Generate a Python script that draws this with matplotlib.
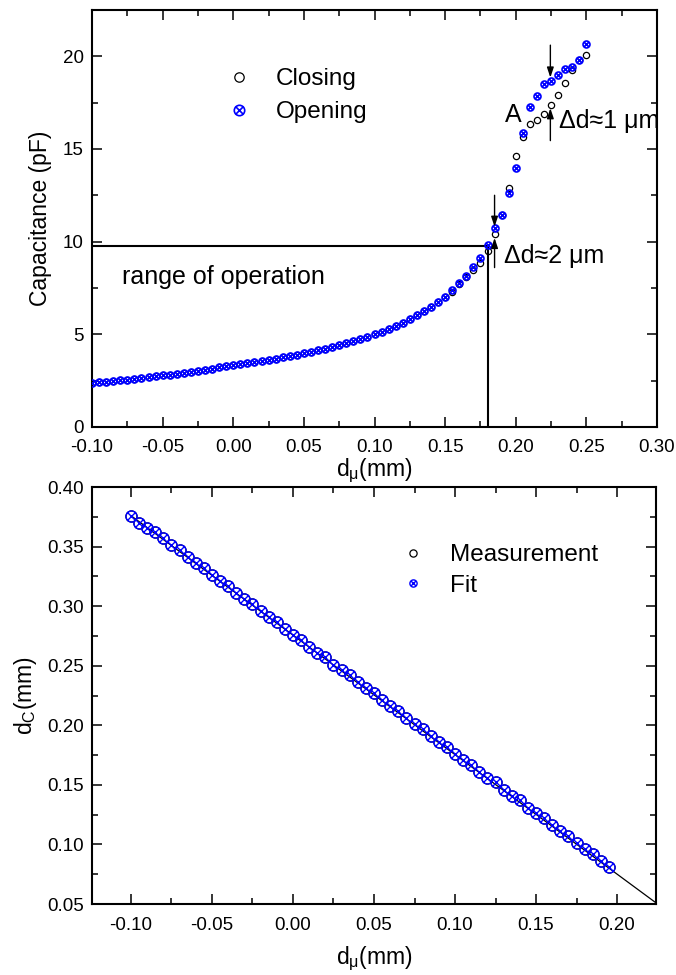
import numpy as np
import matplotlib
matplotlib.use('Agg')
import matplotlib.pyplot as plt
from matplotlib.path import Path
from matplotlib.ticker import MultipleLocator, FormatStrFormatter

plt.rcParams['font.family'] = ['Liberation Sans', 'DejaVu Sans']
plt.rcParams['mathtext.fontset'] = 'custom'
plt.rcParams['mathtext.rm'] = 'Liberation Sans'
plt.rcParams['mathtext.default'] = 'regular'

# top panel: capacitance vs d_mu
d_top = [-0.100, -0.095, -0.090, -0.085, -0.080, -0.075, -0.070, -0.065, -0.060, -0.055,
         -0.050, -0.045, -0.040, -0.035, -0.030, -0.025, -0.020, -0.015, -0.010, -0.005,
         0.000, 0.005, 0.010, 0.015, 0.020, 0.025, 0.030, 0.035, 0.040, 0.045,
         0.050, 0.055, 0.060, 0.065, 0.070, 0.075, 0.080, 0.085, 0.090, 0.095,
         0.100, 0.105, 0.110, 0.115, 0.120, 0.125, 0.130, 0.135, 0.140, 0.145,
         0.150, 0.155, 0.160, 0.165, 0.170, 0.175, 0.180, 0.185, 0.190, 0.195,
         0.200, 0.205, 0.210, 0.215, 0.220, 0.225, 0.230, 0.235, 0.240, 0.245, 0.250]

closing = [2.38, 2.42, 2.45, 2.48, 2.51, 2.54, 2.59, 2.63, 2.68, 2.73,
           2.78, 2.83, 2.87, 2.92, 2.98, 3.03, 3.09, 3.15, 3.21, 3.27,
           3.33, 3.38, 3.44, 3.50, 3.56, 3.62, 3.69, 3.76, 3.83, 3.90,
           3.97, 4.05, 4.14, 4.23, 4.32, 4.42, 4.53, 4.63, 4.76, 4.88,
           5.01, 5.15, 5.30, 5.46, 5.63, 5.81, 6.02, 6.24, 6.45, 6.72,
           7.00, 7.27, 7.70, 8.08, 8.45, 8.82, 9.49, 10.39, 11.46, 12.90,
           14.63, 15.65, 16.33, 16.55, 16.91, 17.36, 17.90, 18.56, 19.28, 19.82, 20.05]

opening = [2.38, 2.42, 2.45, 2.48, 2.51, 2.54, 2.59, 2.63, 2.68, 2.73,
           2.78, 2.83, 2.87, 2.92, 2.98, 3.03, 3.09, 3.15, 3.21, 3.27,
           3.33, 3.38, 3.44, 3.50, 3.56, 3.62, 3.69, 3.76, 3.83, 3.90,
           3.97, 4.05, 4.14, 4.23, 4.32, 4.42, 4.53, 4.63, 4.76, 4.88,
           5.01, 5.15, 5.30, 5.46, 5.63, 5.81, 6.02, 6.24, 6.49, 6.75,
           7.03, 7.37, 7.75, 8.14, 8.61, 9.12, 9.81, 10.71, 11.46, 12.60,
           13.95, 15.85, 17.27, 17.86, 18.53, 18.65, 18.98, 19.34, 19.42, 19.82, 20.68]

# range of operation box
range_x = [-0.10, 0.1806, 0.1806]
range_y = [9.77, 9.77, 0.0]

# bottom panel: d_C vs d_mu
d_bot = [-0.100, -0.095, -0.090, -0.085, -0.080, -0.075, -0.070, -0.065, -0.060, -0.055,
         -0.050, -0.045, -0.040, -0.035, -0.030, -0.025, -0.020, -0.015, -0.010, -0.005,
         0.000, 0.005, 0.010, 0.015, 0.020, 0.025, 0.030, 0.035, 0.040, 0.045,
         0.050, 0.055, 0.060, 0.065, 0.070, 0.075, 0.080, 0.085, 0.090, 0.095,
         0.100, 0.105, 0.110, 0.115, 0.120, 0.125, 0.130, 0.135, 0.140, 0.145,
         0.150, 0.155, 0.160, 0.165, 0.170, 0.175, 0.180, 0.185, 0.190, 0.195]

d_c = [0.376, 0.370, 0.366, 0.362, 0.357, 0.351, 0.347, 0.341, 0.336, 0.332,
       0.326, 0.321, 0.317, 0.311, 0.306, 0.302, 0.296, 0.291, 0.287, 0.281,
       0.276, 0.272, 0.266, 0.261, 0.257, 0.251, 0.246, 0.242, 0.236, 0.231,
       0.227, 0.221, 0.216, 0.212, 0.206, 0.201, 0.197, 0.191, 0.186, 0.182,
       0.176, 0.171, 0.167, 0.161, 0.156, 0.152, 0.146, 0.141, 0.137, 0.131,
       0.126, 0.122, 0.116, 0.111, 0.107, 0.101, 0.096, 0.092, 0.086, 0.081]

fit_x = [-0.100, 0.224]
fit_y = [0.376, 0.051]

blue = '#0000ff'

# circle with a cross inside
r = 0.7071
circx = Path.make_compound_path(
    Path.unit_circle(),
    Path([(-r, -r), (r, r)], [Path.MOVETO, Path.LINETO]),
    Path([(-r, r), (r, -r)], [Path.MOVETO, Path.LINETO]))


def style_axes(ax):
    for s in ax.spines.values():
        s.set_linewidth(1.5)
    ax.tick_params(which='both', direction='in', top=True, right=True,
                   labeltop=False, labelright=False, labelsize=13.5, width=1.1)
    ax.tick_params(which='major', length=7, pad=6)
    ax.tick_params(which='minor', length=4)
    ax.tick_params(axis='x', which='major', pad=9)


fig = plt.figure(figsize=(6.76, 9.75), dpi=100)

# ---- top ----
ax1 = fig.add_axes([0.1361, 0.5621, 0.8358, 0.4277])
ax1.plot(range_x, range_y, color='k', lw=1.5, zorder=1)
ax1.plot(d_top, closing, ls='none', marker='o', ms=4.5, mfc='none', mec='k', mew=0.9,
         label='Closing', zorder=2)
ax1.plot(d_top, opening, ls='none', marker=circx, ms=5, mfc='none', mec=blue, mew=1.2,
         label='Opening', zorder=3)

arr = dict(arrowstyle='-|>,head_length=0.6,head_width=0.2', color='k', lw=1, shrinkA=0, shrinkB=0)
ax1.annotate('', xy=(0.185, 10.8), xytext=(0.185, 12.5), arrowprops=arr)
ax1.annotate('', xy=(0.185, 10.2), xytext=(0.185, 8.6), arrowprops=arr)
ax1.annotate('', xy=(0.2245, 18.85), xytext=(0.2245, 20.6), arrowprops=arr)
ax1.annotate('', xy=(0.2245, 17.2), xytext=(0.2245, 15.45), arrowprops=arr)

ax1.text(0.2044, 16.85, 'A', fontsize=18, ha='right', va='center')
ax1.text(0.2305, 16.5, 'Δd≈1 μm', fontsize=18, ha='left', va='center')
ax1.text(0.1915, 9.2, 'Δd≈2 μm', fontsize=18, ha='left', va='center')
ax1.text(-0.079, 8.1, 'range of operation', fontsize=18, ha='left', va='center')

ax1.set_xlim(-0.10, 0.30)
ax1.set_ylim(0, 22.5)
ax1.xaxis.set_major_locator(MultipleLocator(0.05))
ax1.xaxis.set_minor_locator(MultipleLocator(0.025))
ax1.yaxis.set_major_locator(MultipleLocator(5))
ax1.yaxis.set_minor_locator(MultipleLocator(2.5))
ax1.xaxis.set_major_formatter(FormatStrFormatter('%.2f'))
style_axes(ax1)
ax1.set_xlabel('d$_{μ}$(mm)', fontsize=16.5, labelpad=0)
ax1.set_ylabel('Capacitance (pF)', fontsize=16.5, labelpad=8)
ax1.legend(loc='upper left', bbox_to_anchor=(0.2, 0.883), frameon=False, fontsize=17.5,
           markerscale=1.5, handletextpad=0.5, labelspacing=0.45, borderaxespad=0)

# ---- bottom ----
ax2 = fig.add_axes([0.1361, 0.0728, 0.8343, 0.4277])
ax2.plot(fit_x, fit_y, color='k', lw=0.9, zorder=1)
ax2.plot(d_bot, d_c, ls='none', marker='o', ms=8, mfc='none', mec='k', mew=0.9,
         label='Measurement', zorder=2)
ax2.plot(d_bot, d_c, ls='none', marker=circx, ms=8, mfc='none', mec=blue, mew=1.0,
         label='Fit', zorder=3)

ax2.set_xlim(-0.124, 0.224)
ax2.set_ylim(0.05, 0.40)
ax2.xaxis.set_major_locator(MultipleLocator(0.05))
ax2.xaxis.set_minor_locator(MultipleLocator(0.025))
ax2.yaxis.set_major_locator(MultipleLocator(0.05))
ax2.yaxis.set_minor_locator(MultipleLocator(0.025))
ax2.xaxis.set_major_formatter(FormatStrFormatter('%.2f'))
ax2.yaxis.set_major_formatter(FormatStrFormatter('%.2f'))
style_axes(ax2)
ax2.set_xlabel('d$_{μ}$(mm)', fontsize=16.5, labelpad=8)
ax2.set_ylabel('d$_{C}$(mm)', fontsize=16.5, labelpad=6)
ax2.legend(loc='upper left', bbox_to_anchor=(0.509, 0.886), frameon=False, fontsize=17.5,
           markerscale=0.65, handletextpad=0.5, labelspacing=0.35, borderaxespad=0)

fig.savefig('out.png', dpi=100)
